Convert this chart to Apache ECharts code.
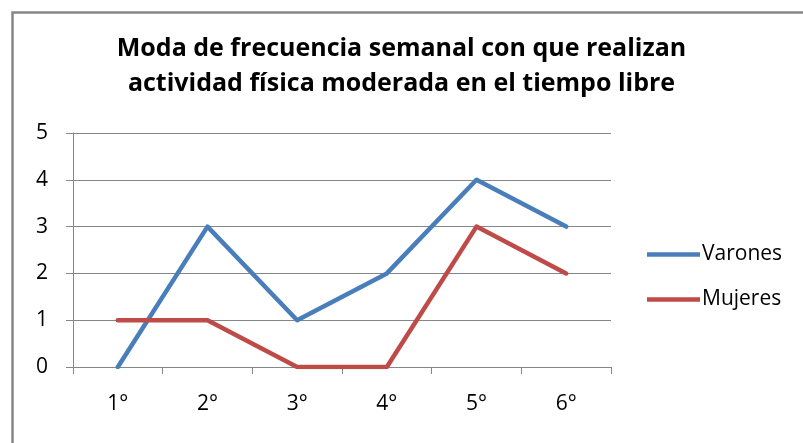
<!DOCTYPE html>
<html><head><meta charset="utf-8">
<script src="https://cdn.jsdelivr.net/npm/echarts@6/dist/echarts.min.js"></script>
<style>html,body{margin:0;padding:0;background:#fff}#c{width:803px;height:443px}</style>
</head><body><div id="c"></div>
<script>
const titleLines = ['Moda de frecuencia semanal con que realizan', 'actividad física moderada en el tiempo libre'];
const categories = ['1°', '2°', '3°', '4°', '5°', '6°'];
const varones = [0, 3, 1, 2, 4, 3];
const mujeres = [1, 1, 0, 0, 3, 2];
const yTicks = [0, 1, 2, 3, 4, 5];

const font = 'Open Sans, sans-serif';
const chart = echarts.init(document.getElementById('c'), null, {renderer: 'canvas'});
chart.setOption({
  animation: false,
  backgroundColor: '#fff',
  graphic: [{
    type: 'rect', left: 10, top: 10, shape: {x: 0, y: 0, width: 820, height: 460},
    style: {fill: 'none', stroke: '#868686', lineWidth: 2.5}, silent: true
  }],
  title: {
    text: titleLines.join('\n'),
    left: 'center', top: 26,
    textStyle: {fontFamily: font, fontWeight: 'bold', fontSize: 25, lineHeight: 35, color: '#000'}
  },
  legend: {
    orient: 'vertical', left: 642, top: 239, itemGap: 24, padding: 5,
    itemWidth: 53, itemHeight: 4.5, icon: 'rect',
    textStyle: {fontFamily: font, fontSize: 21, lineHeight: 21, color: '#000', padding: [0, 0, 0, -3]},
    data: ['Varones', 'Mujeres']
  },
  grid: {left: 73, top: 133, width: 538, height: 234, containLabel: false},
  xAxis: {
    type: 'category', data: categories, boundaryGap: true,
    axisLine: {lineStyle: {color: '#868686', width: 1}},
    axisTick: {show: true, length: 7, inside: false, alignWithLabel: false, lineStyle: {color: '#868686'}},
    axisLabel: {fontFamily: font, fontSize: 21, color: '#000', margin: 27},
    splitLine: {show: false}
  },
  yAxis: {
    type: 'value', min: 0, max: 5, interval: 1,
    axisLine: {show: true, lineStyle: {color: '#868686', width: 1}},
    axisTick: {show: true, length: 7, lineStyle: {color: '#868686'}},
    axisLabel: {fontFamily: font, fontSize: 21, color: '#000', margin: 25,
      formatter: v => yTicks.includes(v) ? String(v) : ''},
    splitLine: {show: true, lineStyle: {color: '#868686', width: 1}}
  },
  series: [
    {name: 'Varones', type: 'line', data: varones, symbol: 'none', color: '#4A7EBB',
     lineStyle: {width: 4.5, color: '#4A7EBB', cap: 'round', join: 'round'}},
    {name: 'Mujeres', type: 'line', data: mujeres, symbol: 'none', color: '#BE4B48',
     lineStyle: {width: 4.5, color: '#BE4B48', cap: 'round', join: 'round'}}
  ]
});
</script></body></html>
